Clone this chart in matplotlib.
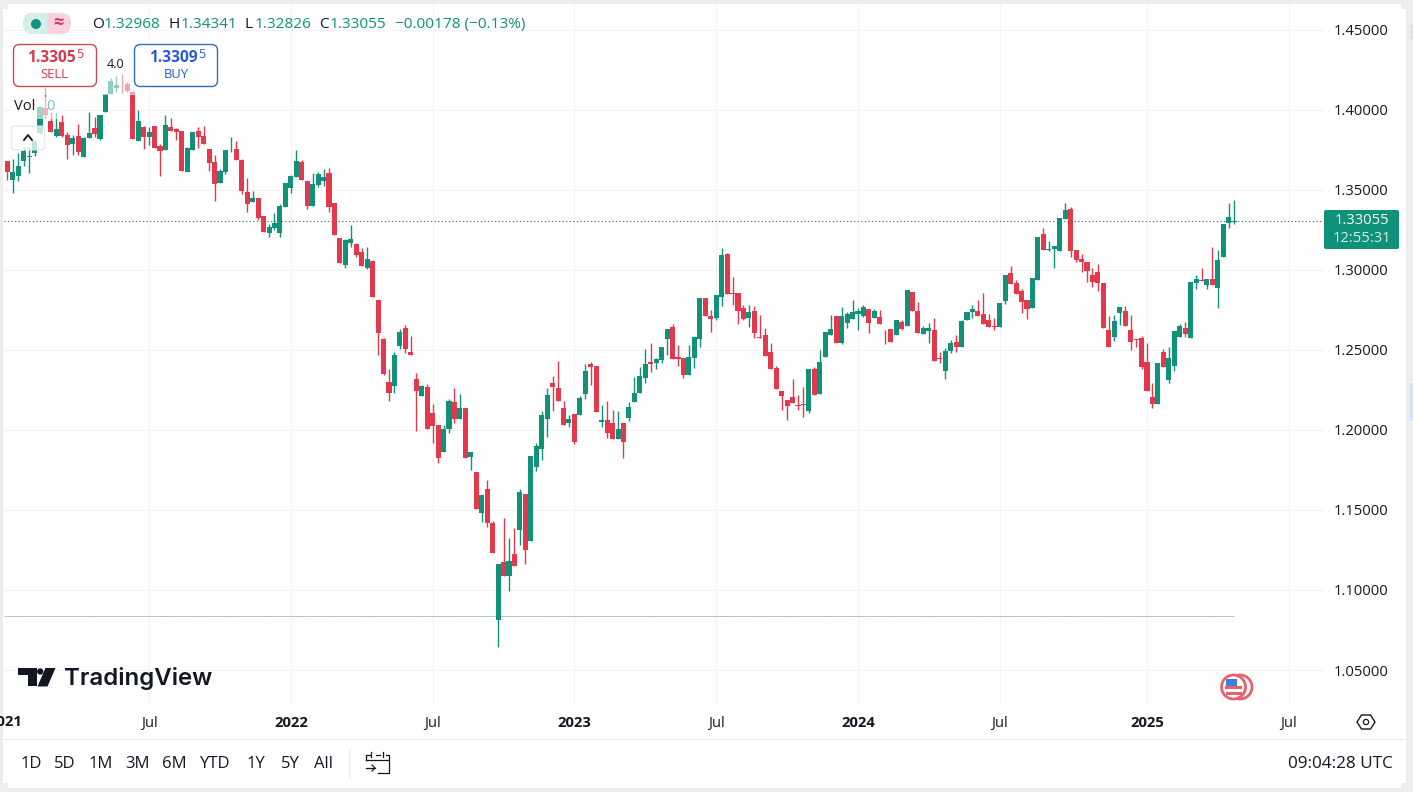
import matplotlib
matplotlib.use("Agg")
import matplotlib.pyplot as plt
from matplotlib.patches import FancyBboxPatch, Rectangle, Circle, Polygon

plt.rcParams['font.family'] = ['Open Sans', 'DejaVu Sans']

opens = [1.3677,1.3560,1.3585,1.3678,1.3702,1.3731,1.3852,1.4008,1.3931,1.3835,1.3921,1.3842,1.3785,1.3835,1.3706,1.3823,1.3883,1.3816,1.3987,1.4099,
1.4137,1.4185,1.4158,1.4110,1.3806,1.3891,1.3831,1.3895,1.3772,1.3747,1.3889,1.3877,1.3866,1.3612,1.3747,1.3868,1.3835,1.3754,1.3670,1.3543,
1.3612,1.3758,1.3754,1.3685,1.3485,1.3425,1.3445,1.3337,1.3231,1.3260,1.3231,1.3389,1.3508,1.3581,1.3674,1.3552,1.3400,1.3527,1.3554,1.3604,
1.3418,1.3198,1.3029,1.3169,1.3160,1.3108,1.3011,1.3056,1.2811,1.2570,1.2299,1.2274,1.2524,1.2636,1.2486,1.2315,1.2213,1.2265,1.2103,1.2028,
1.1864,1.2007,1.2174,1.2070,1.2134,1.1832,1.1737,1.1483,1.1631,1.1419,1.0815,1.1172,1.1089,1.1224,1.1377,1.1597,1.1308,1.1770,1.1880,1.2070,
1.2290,1.2261,1.2136,1.2045,1.2099,1.2095,1.2226,1.2413,1.2399,1.2051,1.2061,1.2040,1.1945,1.2040,1.2072,1.2174,1.2230,1.2324,1.2423,1.2415,
1.2436,1.2567,1.2642,1.2455,1.2451,1.2342,1.2449,1.2567,1.2823,1.2711,1.2698,1.2832,1.3098,1.2857,1.2852,1.2761,1.2698,1.2742,1.2582,1.2592,
1.2486,1.2386,1.2242,1.2186,1.2205,1.2157,1.2161,1.2118,1.2380,1.2224,1.2455,1.2592,1.2711,1.2542,1.2665,1.2692,1.2726,1.2711,1.2755,1.2698,
1.2705,1.2625,1.2630,1.2592,1.2673,1.2648,1.2861,1.2742,1.2598,1.2617,1.2623,1.2449,1.2367,1.2492,1.2549,1.2517,1.2686,1.2736,1.2742,1.2723,
1.2686,1.2648,1.2642,1.2805,1.2979,1.2917,1.2867,1.2811,1.2761,1.2936,1.3223,1.3123,1.3129,1.3117,1.3317,1.3379,1.3123,1.3067,1.3048,1.2967,
1.2986,1.2917,1.2623,1.2580,1.2730,1.2742,1.2623,1.2567,1.2574,1.2423,1.2205,1.2161,1.2486,1.2311,1.2398,1.2580,1.2636,1.2574,1.2917,1.2936,
1.2905,1.2942,1.2886,1.3079,1.3292,1.32968]

highs = [1.3680,1.3689,1.3726,1.3768,1.3768,1.3810,1.4022,1.4139,1.3987,1.3987,1.3966,1.3862,1.3842,1.3910,1.3831,1.3987,1.3956,1.3966,1.4097,1.4195,
1.4210,1.4222,1.4174,1.4122,1.3997,1.3898,1.3893,1.3900,1.3785,1.3966,1.3947,1.3883,1.3868,1.3768,1.3862,1.3893,1.3898,1.3754,1.3716,1.3627,
1.3747,1.3831,1.3802,1.3689,1.3572,1.3493,1.3445,1.3337,1.3285,1.3352,1.3410,1.3539,1.3591,1.3747,1.3685,1.3552,1.3606,1.3612,1.3627,1.3633,
1.3418,1.3198,1.3190,1.3277,1.3165,1.3133,1.3140,1.3061,1.2811,1.2574,1.2378,1.2488,1.2628,1.2655,1.2586,1.2353,1.2280,1.2286,1.2161,1.2028,
1.2028,1.2192,1.2259,1.2224,1.2134,1.1860,1.1737,1.1593,1.1687,1.1429,1.1162,1.1450,1.1327,1.1385,1.1628,1.1597,1.1837,1.1916,1.2117,1.2259,
1.2336,1.2430,1.2178,1.2092,1.2099,1.2213,1.2409,1.2426,1.2399,1.2155,1.2180,1.2124,1.2117,1.2040,1.2176,1.2328,1.2394,1.2503,1.2544,1.2446,
1.2517,1.2630,1.2661,1.2530,1.2451,1.2530,1.2580,1.2823,1.2823,1.2749,1.2842,1.3133,1.3104,1.2957,1.2852,1.2780,1.2780,1.2773,1.2717,1.2636,
1.2542,1.2399,1.2242,1.2186,1.2317,1.2217,1.2267,1.2380,1.2392,1.2498,1.2611,1.2717,1.2711,1.2769,1.2736,1.2811,1.2759,1.2780,1.2755,1.2755,
1.2749,1.2625,1.2630,1.2686,1.2686,1.2873,1.2861,1.2798,1.2648,1.2665,1.2696,1.2486,1.2509,1.2561,1.2592,1.2686,1.2736,1.2780,1.2811,1.2855,
1.2723,1.2698,1.2792,1.2967,1.3023,1.2936,1.2880,1.2811,1.2948,1.3204,1.3260,1.3179,1.3148,1.3323,1.3416,1.3391,1.3123,1.3098,1.3048,1.3011,
1.3036,1.2917,1.2711,1.2717,1.2767,1.2773,1.2717,1.2567,1.2586,1.2542,1.2292,1.2417,1.2505,1.2517,1.2617,1.2661,1.2673,1.2923,1.2967,1.3011,
1.2942,1.3142,1.3123,1.3285,1.3416,1.34341]

lows = [1.3560,1.3477,1.3556,1.3649,1.3606,1.3710,1.3848,1.3945,1.3862,1.3827,1.3831,1.3689,1.3716,1.3716,1.3706,1.3823,1.3827,1.3810,1.3987,1.4097,
1.4112,1.4106,1.4108,1.3818,1.3806,1.3754,1.3781,1.3760,1.3587,1.3747,1.3868,1.3810,1.3616,1.3612,1.3747,1.3762,1.3787,1.3618,1.3431,1.3543,
1.3595,1.3737,1.3685,1.3472,1.3362,1.3420,1.3310,1.3237,1.3206,1.3248,1.3202,1.3389,1.3481,1.3576,1.3560,1.3377,1.3400,1.3518,1.3522,1.3362,
1.3217,1.3040,1.3009,1.3144,1.3077,1.3023,1.3002,1.2831,1.2468,1.2344,1.2182,1.2232,1.2503,1.2482,1.2470,1.1995,1.2213,1.2007,1.1920,1.1795,
1.1864,1.1982,1.2045,1.2070,1.1826,1.1749,1.1508,1.1427,1.1396,1.1233,1.0646,1.1089,1.0995,1.1151,1.1281,1.1162,1.1308,1.1745,1.1812,1.1957,
1.2119,1.2182,1.2032,1.2015,1.1911,1.2095,1.2190,1.2280,1.2113,1.2015,1.1951,1.1945,1.1945,1.1826,1.2057,1.2174,1.2230,1.2290,1.2363,1.2378,
1.2415,1.2468,1.2442,1.2398,1.2326,1.2342,1.2386,1.2517,1.2711,1.2611,1.2686,1.2773,1.2848,1.2780,1.2661,1.2686,1.2640,1.2572,1.2574,1.2461,
1.2380,1.2255,1.2124,1.2061,1.2167,1.2124,1.2082,1.2107,1.2217,1.2224,1.2455,1.2592,1.2542,1.2536,1.2636,1.2692,1.2621,1.2705,1.2605,1.2698,
1.2661,1.2536,1.2549,1.2592,1.2623,1.2648,1.2742,1.2605,1.2598,1.2544,1.2430,1.2417,1.2317,1.2480,1.2486,1.2517,1.2686,1.2698,1.2711,1.2661,
1.2642,1.2623,1.2642,1.2786,1.2911,1.2848,1.2730,1.2692,1.2761,1.2936,1.3123,1.3117,1.3011,1.3117,1.3317,1.3079,1.3048,1.2986,1.2923,1.2892,
1.2867,1.2636,1.2517,1.2555,1.2655,1.2648,1.2499,1.2517,1.2380,1.2242,1.2136,1.2161,1.2392,1.2292,1.2367,1.2580,1.2580,1.2574,1.2880,1.2930,
1.2880,1.2905,1.2761,1.3079,1.3260,1.32826]

closes = [1.3612,1.3608,1.3647,1.3741,1.3710,1.3802,1.4018,1.3966,1.3862,1.3877,1.3837,1.3779,1.3821,1.3735,1.3821,1.3852,1.3850,1.3964,1.4097,1.4176,
1.4151,1.4183,1.4114,1.3818,1.3927,1.3831,1.3860,1.3760,1.3743,1.3902,1.3868,1.3860,1.3616,1.3760,1.3858,1.3831,1.3787,1.3668,1.3537,1.3614,
1.3747,1.3762,1.3685,1.3491,1.3412,1.3445,1.3324,1.3237,1.3264,1.3293,1.3398,1.3539,1.3585,1.3677,1.3560,1.3400,1.3535,1.3598,1.3576,1.3393,
1.3217,1.3044,1.3185,1.3192,1.3092,1.3023,1.3065,1.2831,1.2607,1.2349,1.2232,1.2466,1.2611,1.2507,1.2470,1.2244,1.2274,1.2007,1.2026,1.1824,
1.2003,1.2182,1.2070,1.2134,1.1826,1.1860,1.1508,1.1593,1.1419,1.1233,1.1162,1.1089,1.1178,1.1151,1.1612,1.1249,1.1837,1.1899,1.2092,1.2217,
1.2269,1.2182,1.2032,1.2065,1.1924,1.2201,1.2367,1.2390,1.2113,1.2061,1.1982,1.1945,1.2003,1.1926,1.2145,1.2230,1.2336,1.2411,1.2411,1.2442,
1.2517,1.2630,1.2442,1.2444,1.2342,1.2455,1.2580,1.2823,1.2711,1.2694,1.2842,1.3092,1.2848,1.2848,1.2742,1.2692,1.2736,1.2605,1.2574,1.2461,
1.2380,1.2255,1.2211,1.2149,1.2167,1.2151,1.2155,1.2380,1.2217,1.2423,1.2611,1.2630,1.2542,1.2711,1.2723,1.2736,1.2744,1.2767,1.2667,1.2742,
1.2661,1.2621,1.2549,1.2686,1.2630,1.2873,1.2742,1.2605,1.2636,1.2636,1.2430,1.2442,1.2492,1.2542,1.2517,1.2680,1.2736,1.2755,1.2711,1.2661,
1.2642,1.2642,1.2792,1.2967,1.2911,1.2848,1.2798,1.2755,1.2948,1.3204,1.3123,1.3127,1.3148,1.3323,1.3373,1.3117,1.3061,1.3048,1.2992,1.2923,
1.2917,1.2636,1.2517,1.2680,1.2767,1.2648,1.2549,1.2561,1.2392,1.2242,1.2161,1.2417,1.2392,1.2449,1.2617,1.2648,1.2598,1.2923,1.2942,1.2930,
1.2942,1.2905,1.3061,1.3285,1.3329,1.33055]

price_ticks = [1.05, 1.10, 1.15, 1.20, 1.25, 1.30, 1.35, 1.40, 1.45]
time_ticks = [26, 52, 78, 104, 130, 156, 182, 209, 235]
time_labels = ["Jul", "2022", "Jul", "2023", "Jul", "2024", "Jul", "2025", "Jul"]
ranges = ["1D", "5D", "1M", "3M", "6M", "YTD", "1Y", "5Y", "All"]
hidden_level = 1.0838
last_close = closes[-1]

GREEN = "#0f9279"
RED = "#e4394c"
BLUE = "#2a5bd0"
TXT = "#131722"
GRID = "#f3f3f5"
W, H = 1413, 792

fig = plt.figure(figsize=(W / 100, H / 100), dpi=100, facecolor="#ededed")

# Background panel
bg = fig.add_axes([0, 0, 1, 1], zorder=0)
bg.set_xlim(0, W); bg.set_ylim(H, 0); bg.axis("off")
bg.add_patch(FancyBboxPatch((8, 9), 1393, 774, boxstyle="round,pad=0,rounding_size=5", fc="white", ec="none", mutation_aspect=1))
bg.add_patch(Rectangle((3, 9), 1403, 774, fc="white", ec="none"))
bg.add_patch(Rectangle((8, 4), 1393, 784, fc="white", ec="none"))
bg.plot([3, 1406], [739, 739], color="#e9e9ec", lw=0.8)
bg.add_patch(Rectangle((1410, 383), 3, 38, fc="#d3e3f8", ec="none"))
bg.add_patch(Rectangle((1410, 25), 3, 14, fc="#e2e2e2", ec="none"))

# Main chart axes
left, right, top, bottom = 4, 1323, 5, 704
ax = fig.add_axes([left / W, 1 - bottom / H, (right - left) / W, (bottom - top) / H], zorder=1)
ax.patch.set_alpha(0)
ax.set_xlim((left - 7.3) / 5.453, (right - 7.3) / 5.453)
ax.set_ylim(1.0288, 1.4653)
for s in ax.spines.values():
    s.set_visible(False)

ax.yaxis.tick_right()
ax.set_yticks(price_ticks)
ax.set_yticklabels([f"{p:.5f}" for p in price_ticks], fontsize=10.6, color=TXT)
ax.set_xticks(time_ticks)
ax.set_xticklabels(time_labels, fontsize=10.6, color=TXT)
for lab, txt in zip(ax.get_xticklabels(), time_labels):
    if txt != "Jul":
        lab.set_fontweight("bold")
ax.tick_params(axis="y", length=0, pad=7.5)
ax.tick_params(axis="x", length=0, pad=8.5)
ax.grid(True, color=GRID, lw=0.75)
ax.set_axisbelow(True)

n = len(opens)
idx = list(range(n))
colors = [GREEN if c >= o else RED for o, c in zip(opens, closes)]
ax.vlines(idx, lows, highs, colors=colors, lw=1.0, zorder=3)
ax.bar(idx, [abs(c - o) for o, c in zip(opens, closes)],
       bottom=[min(o, c) for o, c in zip(opens, closes)],
       width=0.93, color=colors, linewidth=0, zorder=3)

ax.axhline(last_close, color="#2a6a5e", lw=0.8, ls=(0, (1, 2.2)), zorder=2)
ax.hlines(hidden_level, -0.6, n - 1, color="#f0a9b4", lw=0.7, ls=(0, (3, 3)), zorder=2)
ax.hlines(hidden_level, -0.6, n - 1, color="#8fd0c2", lw=0.7, ls=(3, (3, 3)), zorder=2)

# Overlay furniture in pixel coordinates
ov = fig.add_axes([0, 0, 1, 1], zorder=2)
ov.patch.set_alpha(0)
ov.set_xlim(0, W); ov.set_ylim(H, 0); ov.axis("off")

def t(x, y, s, size=10.6, color=TXT, ha="left", va="center", **kw):
    return ov.text(x, y, s, fontsize=size, color=color, ha=ha, va=va, **kw)

# Semi-transparent legend backdrops
ov.add_patch(Rectangle((10, 40), 210, 55, fc="white", alpha=0.55, ec="none"))
ov.add_patch(Rectangle((10, 97), 50, 22, fc="white", alpha=0.6, ec="none"))
ov.add_patch(FancyBboxPatch((11.5, 126), 33, 24, boxstyle="round,pad=0,rounding_size=3", fc="white", alpha=0.75, ec="#e3e3e6", lw=1))

# Header pill
ov.add_patch(FancyBboxPatch((23, 13), 48, 21, boxstyle="round,pad=0,rounding_size=10", fc="#f8d2df", ec="none"))
ov.add_patch(FancyBboxPatch((23, 13), 24, 21, boxstyle="round,pad=0,rounding_size=10", fc="#d6eee9", ec="none"))
ov.add_patch(Rectangle((37, 13), 10, 21, fc="#d6eee9", ec="none"))
ov.add_patch(Circle((36, 24), 5, fc=GREEN, ec="none"))
t(58, 23, "≈", size=13, color="#d0336b", ha="center", fontweight="bold")

# OHLC line
hdr = [(92, "O", TXT), (104, "1.32968", GREEN), (169, "H", TXT), (181, "1.34341", GREEN),
       (245, "L", TXT), (255, "1.32826", GREEN), (319, "C", TXT), (330, "1.33055", GREEN),
       (395, "−0.00178 (−0.13%)", GREEN)]
for x, s, c in hdr:
    t(x, 24.5, s, size=11.1, color=c)

# Sell / buy
ov.add_patch(FancyBboxPatch((13.5, 44.5), 83, 42, boxstyle="round,pad=0,rounding_size=6", fc="white", ec="#cc4a58", lw=1))
ov.add_patch(FancyBboxPatch((134.5, 44.5), 83, 42, boxstyle="round,pad=0,rounding_size=6", fc="white", ec="#2f6cb5", lw=1))
t(51.5, 57.5, "1.3305", size=11.2, color="#d8394b", ha="center", fontweight="bold")
t(76.5, 55, "5", size=9, color="#d8394b")
t(54, 75, "SELL", size=9.4, color="#d8394b", ha="center")
t(173, 57.5, "1.3309", size=11.2, color=BLUE, ha="center", fontweight="bold")
t(198, 55, "5", size=9, color=BLUE)
t(176, 75, "BUY", size=9.4, color=BLUE, ha="center")
t(115.5, 64.5, "4.0", size=9, color=TXT, ha="center")

# Vol legend
t(14, 107, "Vol", size=10.6)
t(46, 107, "0", size=10.6, color="#7cc4b6")
ov.plot([24, 28, 32], [140, 135, 140], color=TXT, lw=1.3)

# Last-price badge
ov.add_patch(FancyBboxPatch((1324, 210), 75, 39, boxstyle="round,pad=0,rounding_size=2", fc=GREEN, ec="none"))
t(1361.5, 221, "1.33055", size=10.6, color="white", ha="center")
t(1361.5, 239, "12:55:31", size=10.6, color="#d5efe9", ha="center")

# 2021 label, cut by the chart edge as in the original
t(5.5, 722, "2021", size=10.6, ha="center", fontweight="bold", clip_on=True)

# TradingView logo
k = "#131722"
ov.add_patch(Polygon([(18, 668), (37, 668), (37, 686), (28, 686), (28, 675), (18, 675)], fc=k, ec="none"))
ov.add_patch(Circle((40.2, 671.5), 3.2, fc=k, ec="none"))
ov.add_patch(Polygon([(45.5, 668), (55.5, 668), (47.5, 686.5), (37.5, 686.5)], fc=k, ec="none"))
t(64, 678, "TradingView", size=17.3, color=k, fontweight="semibold", family=["Inter", "DejaVu Sans"])

# Flag marker
ov.add_patch(Circle((1240, 687), 12, fc="white", ec="#e8606e", lw=2))
ov.add_patch(Circle((1233.5, 687), 12, fc="white", ec="#e8606e", lw=2))
ov.add_patch(Rectangle((1225, 686), 17, 3, fc="#e8606e", ec="none"))
ov.add_patch(Rectangle((1226, 692), 16, 3, fc="#e8606e", ec="none"))
ov.add_patch(Rectangle((1226, 679), 11, 7, fc="#3d7ddb", ec="none"))

# Settings hexagon
ov.add_patch(Polygon([(1357, 722), (1361.5, 715), (1370.5, 715), (1375, 722), (1370.5, 729), (1361.5, 729)],
                     fc="white", ec=TXT, lw=1.0))
ov.add_patch(Circle((1366, 722), 2.6, fc="white", ec=TXT, lw=0.9))

# Bottom toolbar
for x, s in zip([31, 65, 101, 138, 174, 215, 256, 290, 324], ranges):
    t(x, 763.5, s, size=12, ha="center")
ov.plot([349, 349], [750, 777], color="#e9e9ec", lw=0.8)
ov.plot([370, 366, 366], [755, 755, 760], color=TXT, lw=0.9)
ov.plot([376, 380], [755, 755], color=TXT, lw=0.9)
ov.plot([386, 388.5, 388.5, 378], [755, 755, 773, 773], color=TXT, lw=0.9)
ov.plot([366, 388.5], [760, 760], color=TXT, lw=0.9)
ov.plot([371, 371], [752, 757], color=TXT, lw=0.9)
ov.plot([383, 383], [752, 757], color=TXT, lw=0.9)
ov.plot([366, 375], [768, 768], color=TXT, lw=0.9)
ov.plot([372, 375, 372], [765, 768, 771], color=TXT, lw=0.9)
t(1393, 763.5, "09:04:28 UTC", size=12.3, ha="right")

fig.savefig("out.png", dpi=100, facecolor=fig.get_facecolor())
